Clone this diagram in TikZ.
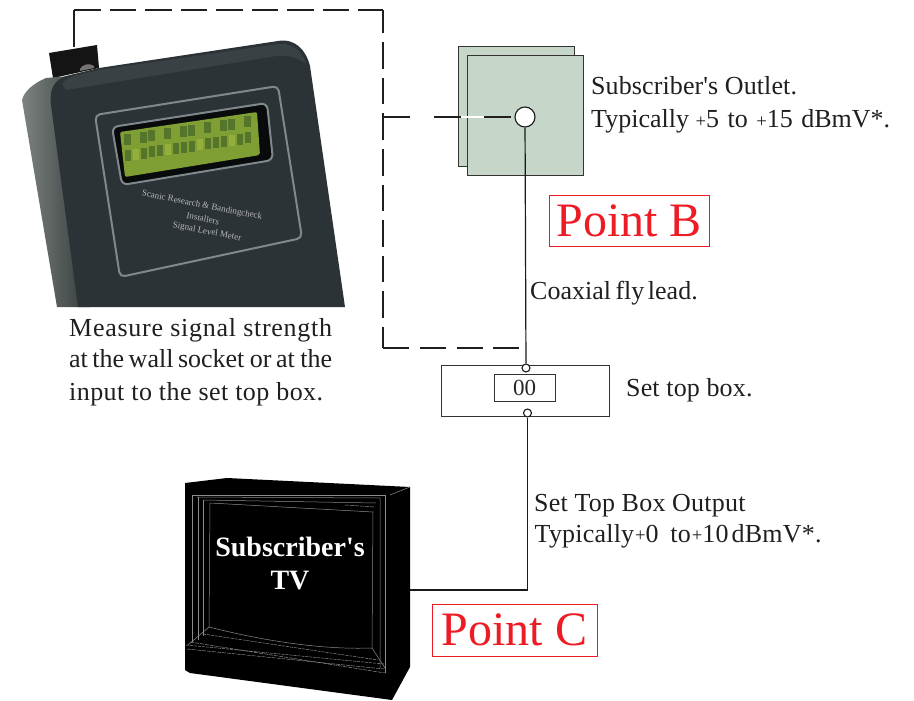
\documentclass[tikz,border=0pt]{standalone}
\usepackage{fontspec}
\newfontfamily\serifx{Liberation Serif}
\usetikzlibrary{calc}
\definecolor{redc}{HTML}{ED1C24}
\definecolor{plate}{HTML}{C6D7CA}
\definecolor{body}{HTML}{2C3336}
\definecolor{bodyhi}{HTML}{3A4144}
\definecolor{rim}{HTML}{7F888B}
\definecolor{lcdA}{HTML}{55752A}
\definecolor{lcdB}{HTML}{7F9E33}
\definecolor{lcdC}{HTML}{93B03C}
\definecolor{sideA}{HTML}{7C8380}
\definecolor{sideB}{HTML}{333A3A}
\tikzset{
  x=1pt,y=-1pt,
  dashdet/.style={line width=2.8pt,color=black!88,dash pattern=on 26.5pt off 9pt},
  wire/.style={line width=1.2pt,color=black!90},
  port/.style={circle,draw=black!90,fill=white,line width=1.1pt,inner sep=0pt,minimum size=8pt},
  txt/.style={font=\serifx\fontsize{26}{26}\selectfont,anchor=base west,inner sep=0pt,text=black!88},
  pointbox/.style={draw=redc,line width=.9pt,text=redc,font=\serifx\fontsize{48}{48}\selectfont,inner sep=0pt,anchor=center},
  tvline/.style={line width=.5pt,color=black!45},
  metertxt/.style={rotate=-11,text=black!28,font=\serifx\fontsize{9}{9}\selectfont,inner sep=0pt},
}
\newcommand{\smallplus}{\raisebox{.5pt}{\scalebox{.72}{+}}}
\begin{document}
\begin{tikzpicture}
\useasboundingbox (0,0) rectangle (914,701);
% ---- meter
\fill[black!92] (49,53) -- (97,45) -- (99,68) -- (53,78) -- cycle;
\shade[left color=sideA,right color=sideB] (57,307) -- (22,100) .. controls (24,92) and (32,84) .. (46,78) -- (70,76) -- (90,307) -- cycle;
\fill[body] (78,307) -- (51,105) .. controls (49,88) and (55,80) .. (66,76)
  -- (99,68) -- (278,41) .. controls (295,38) and (306,50) .. (310,66) -- (345,307) -- cycle;
\fill[bodyhi] (62,84) .. controls (66,78) and (72,76) .. (99,70) -- (278,44) .. controls (292,42) and (303,52) .. (306,64) .. controls (296,56) and (285,54) .. (270,57) -- (66,90) -- cycle;
\fill[black!55] (80,69) .. controls (82,64) and (90,63) .. (94,66) -- (94,68) -- (80,71) -- cycle;
\draw[rim,line width=2pt,rounded corners=5pt] (95,115) -- (278,86) -- (302,238) -- (120,277) -- cycle;
\draw[rim,line width=2pt,rounded corners=6pt,fill=black!80!body] (112,127) -- (267,103) -- (273,160) -- (122,185) -- cycle;
\fill[lcdB,rounded corners=2pt] (120,132) -- (257,112) -- (260,155) -- (125,177) -- cycle;
\foreach \i in {0,...,15}{
  \pgfmathsetmacro{\xa}{124+8*\i}
  \pgfmathsetmacro{\ya}{134-0.146*8*\i}
  \pgfmathsetmacro{\yb}{150-0.146*8*\i}
  \pgfmathtruncatemacro{\pa}{mod(\i*7+3,5)}
  \pgfmathtruncatemacro{\pb}{mod(\i*3+1,4)}
  \ifnum\pa>1 \fill[lcdA] (\xa,\ya) rectangle ++(6.5,11); \fi
  \ifnum\pb>0 \fill[lcdA] (\xa+.5,\yb) rectangle ++(6.5,11); \else \fill[lcdC] (\xa+.5,\yb) rectangle ++(6.5,11); \fi
}
\node[metertxt] (mt1) at (202,205.5) {Scanic Research \& Bandingcheck};
\node[metertxt] (mt2) at (203,218.5) {Installers};
\node[metertxt] (mt3) at (207,232) {Signal Level Meter};
\coordinate (knob) at (74,47);
% ---- plates
\fill[plate,draw=black!80,line width=.9pt] (458,46) rectangle (574,166);
\node[draw=black!80,fill=plate,line width=.9pt,minimum width=116pt,minimum height=120pt,inner sep=0pt] (plateb) at (525,115) {};
\node[circle,draw=black!90,fill=white,line width=1.1pt,minimum size=20pt,inner sep=0pt] (outlet) at (525,117) {};
% ---- set top box
\node[draw=black!80,line width=.9pt,minimum width=168pt,minimum height=51pt,inner sep=0pt] (stb) at (525,390.5) {};
\node[draw=black!80,line width=.9pt,minimum width=61pt,minimum height=27pt,inner sep=0pt,font=\serifx\fontsize{23}{23}\selectfont,text=black!85] (disp) at (524.5,387.5) {00};
\node[port] (pin) at (526,368) {};
\node[port] (pout) at (527.5,413) {};
% ---- TV
\fill[black] (185,483) -- (227,478) -- (410,487) -- (410,667) -- (392,700) -- (190,673) -- (185,670) -- cycle;
\draw[tvline] (192,495) -- (385,495) -- (385,673);
\draw[tvline] (197,497) -- (380,498) -- (380,668);
\draw[tvline] (192,495) -- (192,642);
\draw[tvline] (198,497) -- (198,640);
\draw[tvline] (203,500) -- (203,636);
\draw[tvline] (203,500) -- (376,503);
\draw[tvline] (210,503) -- (373,512) -- (372,648) .. controls (320,650) and (260,640) .. (209,627) -- cycle;
\draw[tvline] (209,627) -- (188,645);
\draw[tvline] (372,648) -- (385,668);
\draw[tvline,dash pattern=on 3pt off 1pt] (203,634) -- (378,660);
\draw[tvline,dash pattern=on 3pt off 1pt] (186,645) -- (384,664);
\draw[tvline,dash pattern=on 4pt off 1pt] (187,649) -- (384,669);
\draw[tvline,dash pattern=on 4pt off 1pt] (190,642) -- (385,673);
\draw[tvline,dash pattern=on 4pt off 1pt] (345,505) -- (375,507);
\draw[tvline] (390,495) -- (410,487);
\node[text=white,font=\serifx\bfseries\fontsize{28}{33}\selectfont,align=center,inner sep=0pt] (tv) at (290,563) {Subscriber's\\TV};
\coordinate (tvport) at (410,590);
% ---- connectors
\coordinate (c1) at (74,10);
\coordinate (c2) at (383,10);
\coordinate (c3) at (383,348);
\coordinate (c4) at (521,348);
\coordinate (j) at (383,117);
\coordinate (b0) at (511,117);
\coordinate (w0) at (461,117);
\coordinate (w1) at (484,117);
\draw[line width=2.8pt,color=black!88] (knob) -- (c1);
\draw[dashdet] (c1) -- (c2);
\draw[dashdet,dash phase=3pt] (c2) -- (c3);
\draw[dashdet,dash pattern=on 26pt off 10.8pt] (c3) -- (c4);
\draw[dashdet,dash pattern=on 27pt off 24pt on 27pt off 23pt on 27pt] (j) -- (b0);
\draw[line width=2.8pt,white] (w0) -- (w1);
\draw[wire] (outlet) -- (pin);
\draw[wire] (pout) |- (tvport);
% ---- texts
\node[txt] (t1) at (591,95) {\addfontfeature{LetterSpace=.4}Subscriber's Outlet.};
\node[txt] (t2) at (591,128) {Typically \smallplus 5\hspace{2pt} to\hspace{2pt} \smallplus 15\hspace{2pt} dBmV*.};
\node[pointbox,minimum width=160pt,minimum height=51pt] (ptb) at (629,220.5) {Point B\hspace{4pt}};
\node[txt] (t3) at (530,299) {Coaxial\hspace{-2pt} fly\hspace{-3pt} lead.};
\node[txt] (t4) at (69,336) {\addfontfeature{LetterSpace=2.8}Measure signal strength};
\node[txt] (t5) at (69,367) {at\hspace{-2pt} the\hspace{-2pt} wall\hspace{-2pt} socket\hspace{-1pt} or\hspace{-2pt} at\hspace{-1pt} the};
\node[txt] (t6) at (69,400) {\addfontfeature{LetterSpace=1.7}input to the set top box.};
\node[txt] (t7) at (626,396) {\addfontfeature{LetterSpace=.6}Set top box.};
\node[txt] (t8) at (534,511) {\addfontfeature{LetterSpace=.8}Set Top Box Output};
\node[txt] (t9) at (534.5,542) {\addfontfeature{LetterSpace=.8}Typically\hspace{1pt}\smallplus 0\hspace{5pt} to\hspace{1pt}\smallplus 10\hspace{3pt}dBmV*.};
\node[pointbox,minimum width=165pt,minimum height=52pt] (ptc) at (514.5,630) {Point C};
\end{tikzpicture}
\end{document}
